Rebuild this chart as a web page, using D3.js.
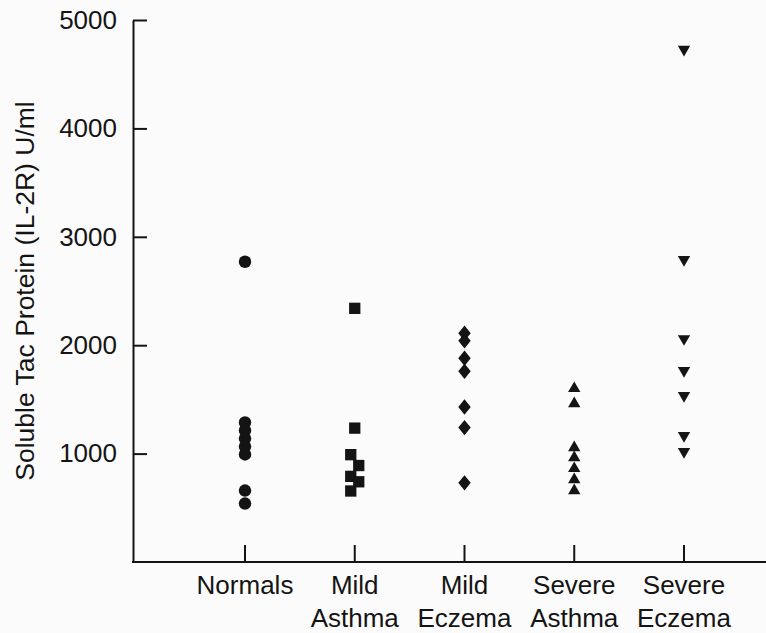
<!DOCTYPE html>
<html>
<head>
<meta charset="utf-8">
<script src="https://cdn.jsdelivr.net/npm/d3@7"></script>
<style>
  body { margin: 0; background: #fbfbfb; }
  text { font-family: "Liberation Sans", Arial, Helvetica, sans-serif; fill: #141414; }
</style>
</head>
<body>
<div id="chart-area"></div>
<script>
// soluble Tac protein (IL-2R), U/ml, per group
var categories = ["Normals", "Mild Asthma", "Mild Eczema", "Severe Asthma", "Severe Eczema"];
var categoryLines = [["Normals"], ["Mild", "Asthma"], ["Mild", "Eczema"], ["Severe", "Asthma"], ["Severe", "Eczema"]];

var normals = [2770, 1287, 1213, 1139, 1065, 992, 659, 539];
var mildAsthma = [2340, 1235, 990, 890, 790, 740, 655];
var mildEczema = [2110, 2040, 1880, 1760, 1430, 1240, 730];
var severeAsthma = [1600, 1460, 1055, 963, 862, 760, 659];
var severeEczema = [4730, 2790, 2060, 1765, 1535, 1166, 1018];

var yTicks = [1000, 2000, 3000, 4000, 5000];
var yTitle = "Soluble Tac Protein (IL-2R) U/ml";

var width = 766, height = 633;

var svg = d3.select("#chart-area").append("svg")
    .attr("width", width)
    .attr("height", height);

var y = d3.scaleLinear().domain([0, 5000]).range([562, 20]);
var x = d3.scalePoint().domain(categories).range([245, 684]);
var axisX = 133;

// diamond a bit taller than wide, like the printed one
var diamond = {
    draw: function(ctx, size) {
        var w = Math.sqrt(size) * 0.55, h = Math.sqrt(size) * 0.68;
        ctx.moveTo(0, -h); ctx.lineTo(w, 0); ctx.lineTo(0, h); ctx.lineTo(-w, 0); ctx.closePath();
    }
};

var groups = [
    {cat: categories[0], values: normals, type: d3.symbolCircle, size: 122, rot: 0, dodge: false},
    {cat: categories[1], values: mildAsthma, type: d3.symbolSquare, size: 128, rot: 0, dodge: true},
    {cat: categories[2], values: mildEczema, type: diamond, size: 128, rot: 0, dodge: false},
    {cat: categories[3], values: severeAsthma, type: d3.symbolTriangle, size: 66, rot: 0, dodge: false},
    {cat: categories[4], values: severeEczema, type: d3.symbolTriangle, size: 66, rot: 180, dodge: false}
];

// y axis, ticks pointing inward
svg.append("g")
    .attr("transform", "translate(" + axisX + ",0)")
    .call(d3.axisLeft(y).tickValues(yTicks).tickFormat(d3.format("d"))
        .tickSizeInner(-14).tickSizeOuter(0).tickPadding(16))
    .call(g => g.selectAll("path, line").attr("stroke", "#141414").attr("stroke-width", 2))
    .call(g => g.selectAll("text").attr("font-size", 26).style("font-family", "Liberation Sans, Arial"));

// x axis line + upward ticks
svg.append("line")
    .attr("x1", axisX - 1).attr("x2", width)
    .attr("y1", y(0)).attr("y2", y(0))
    .attr("stroke", "#141414").attr("stroke-width", 2);

svg.selectAll(".xtick")
    .data(categories)
    .enter().append("line")
        .attr("class", "xtick")
        .attr("x1", d => x(d)).attr("x2", d => x(d))
        .attr("y1", y(0)).attr("y2", y(0) - 17)
        .attr("stroke", "#141414").attr("stroke-width", 2);

var labels = svg.selectAll(".xlabel")
    .data(categories)
    .enter().append("text")
        .attr("class", "xlabel")
        .attr("text-anchor", "middle")
        .attr("font-size", 26)
        .attr("x", d => x(d));

labels.selectAll("tspan")
    .data((d, i) => categoryLines[i])
    .enter().append("tspan")
        .attr("x", function() { return d3.select(this.parentNode).attr("x"); })
        .attr("y", (d, i) => 594 + i * 33)
        .text(d => d);

svg.append("text")
    .attr("transform", "translate(34," + 291 + ") rotate(-90)")
    .attr("text-anchor", "middle")
    .attr("font-size", 26.5)
    .text(yTitle);

// markers; squares that touch each other get nudged left/right
groups.forEach(function(g) {
    var pts = g.values.map(v => ({v: v, dx: 0})).sort((a, b) => b.v - a.v);
    if (g.dodge) {
        var side = -1;
        pts.forEach(function(p, i) {
            var near = (i > 0 && y(p.v) - y(pts[i - 1].v) < 12) ||
                       (i < pts.length - 1 && y(pts[i + 1].v) - y(p.v) < 12);
            if (near) {
                p.dx = side * 4;
                side = -side;
            } else {
                side = -1;
            }
        });
    }
    var sym = d3.symbol().type(g.type).size(g.size);
    svg.selectAll(null)
        .data(pts)
        .enter().append("path")
            .attr("d", sym)
            .attr("transform", d => "translate(" + (x(g.cat) + d.dx) + "," + y(d.v) + ") rotate(" + g.rot + ")")
            .attr("fill", "#141414");
});
</script>
</body>
</html>
